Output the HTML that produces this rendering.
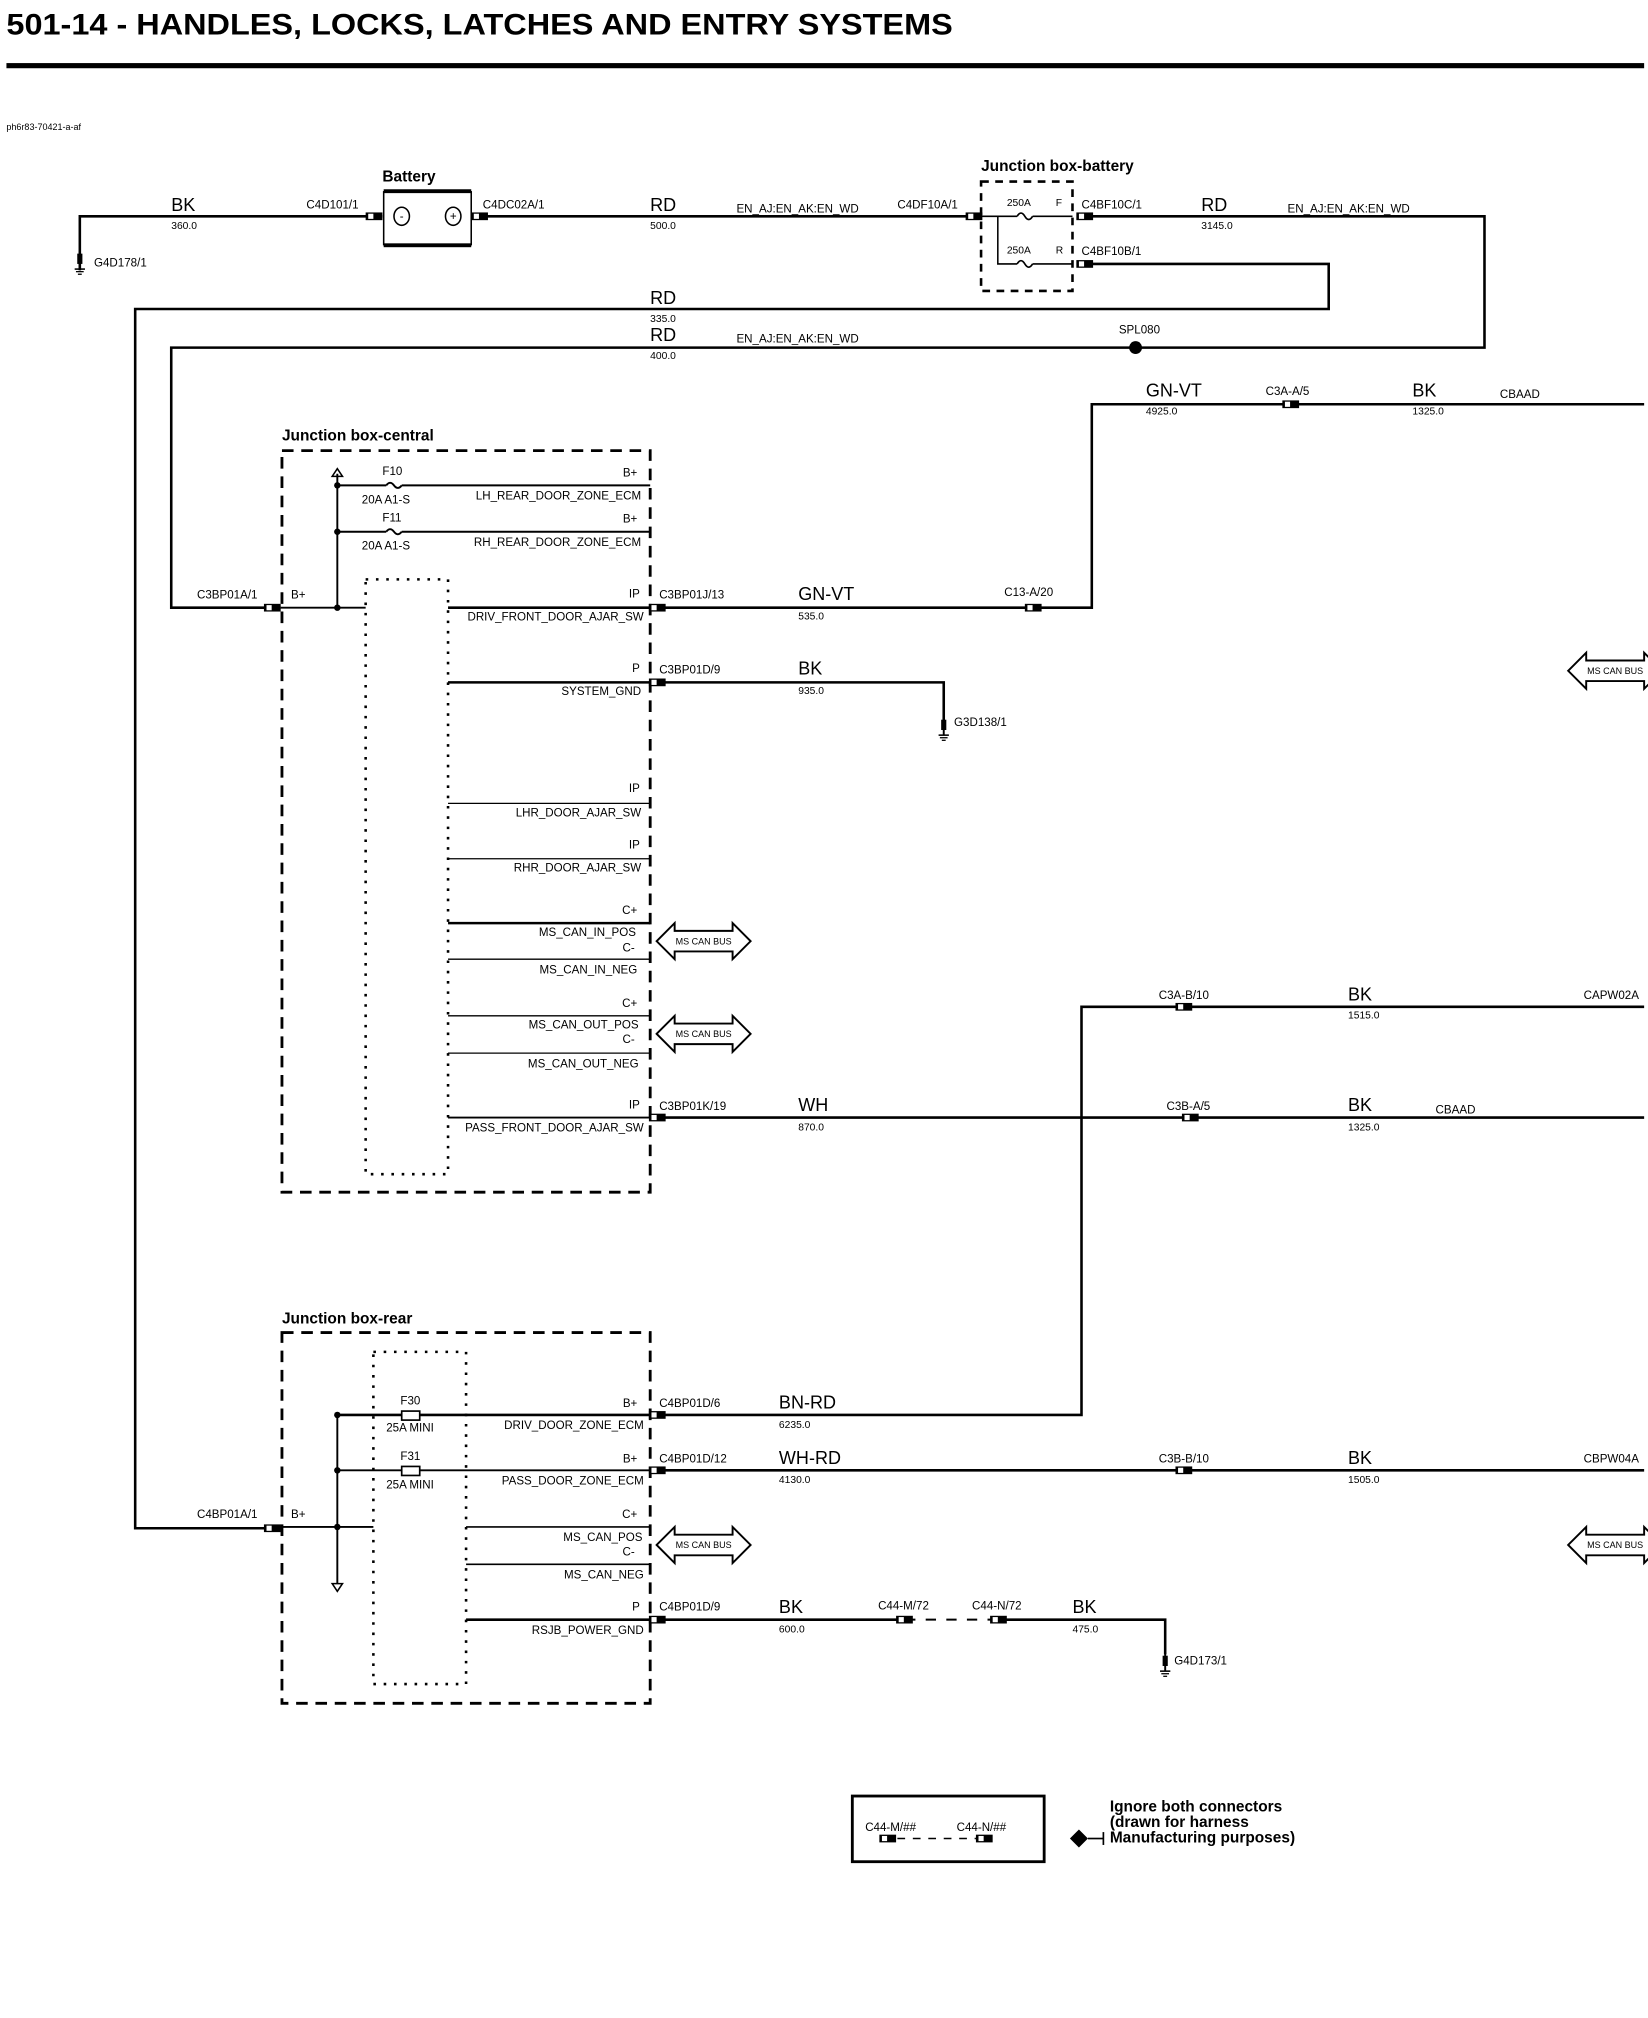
<!DOCTYPE html>
<html><head><meta charset="utf-8"><style>
html,body{margin:0;padding:0;background:#fff}
svg{display:block}
text{font-family:"Liberation Sans",sans-serif;fill:#000}
.w{font-size:14px}
.n{font-size:8px}
.s{font-size:9px}
.b{font-weight:bold}
</style></head><body>
<svg width="1648" height="2018" viewBox="0 0 1280 1567.4" preserveAspectRatio="none" xmlns="http://www.w3.org/2000/svg">
<defs>
<g id="cn"><rect x="-7" y="-3" width="13" height="6" fill="#000"/><rect x="-5" y="-2" width="4" height="4" fill="#fff"/></g>
<g id="can"><polygon points="0,0 14,-14 14,-8 59,-8 59,-14 73,0 59,14 59,8 14,8 14,14" fill="#fff" stroke="#000" stroke-width="1.5"/><text x="36.5" y="2.5" font-size="7" text-anchor="middle">MS CAN BUS</text></g>
<g id="gnd"><line x1="0" y1="-8" x2="0" y2="6" stroke="#000" stroke-width="1.5"/><rect x="-2" y="-6" width="4" height="8" fill="#000"/><line x1="-4" y1="6" x2="4" y2="6" stroke="#000" stroke-width="1.2"/><line x1="-3" y1="8" x2="3" y2="8" stroke="#000"/><line x1="-1.5" y1="10" x2="1.5" y2="10" stroke="#000"/></g>
</defs>
<text x="5" y="27" font-size="23" font-weight="bold" textLength="735" lengthAdjust="spacingAndGlyphs">501-14 - HANDLES, LOCKS, LATCHES AND ENTRY SYSTEMS</text>
<rect x="5" y="49" width="1272" height="4" fill="#000"/>
<text x="5" y="101" font-size="7">ph6r83-70421-a-af</text>

<g stroke="#000" stroke-width="2" fill="none">
<!-- top wires -->
<polyline points="62,210 62,168 297,168"/>
<line x1="367" y1="168" x2="760" y2="168"/>
<polyline points="843,168 1153,168 1153,270 133,270 133,472 218,472"/>
<polyline points="843,205 1032,205 1032,240 105,240 105,1187 218,1187"/>
<polyline points="505,472 848,472 848,314 1277,314"/>
<polyline points="505,530 733,530 733,560"/>
<line x1="505" y1="868" x2="1277" y2="868"/>
<polyline points="505,1099 840,1099 840,782 1277,782"/>
<line x1="505" y1="1142" x2="1277" y2="1142"/>
<line x1="505" y1="1258" x2="703" y2="1258"/>
<polyline points="776,1258 905,1258 905,1285"/>
</g>
<line x1="703" y1="1258" x2="776" y2="1258" stroke="#000" stroke-width="1.5" stroke-dasharray="8,8"/>

<!-- battery -->
<rect x="298" y="149" width="68" height="41" fill="#fff" stroke="#000" stroke-width="1.2"/>
<rect x="298" y="147" width="68" height="3" fill="#000"/><rect x="298" y="189" width="68" height="3" fill="#000"/>
<ellipse cx="312" cy="168" rx="6" ry="7" fill="none" stroke="#000" stroke-width="1.2"/><text x="312" y="171" font-size="9" text-anchor="middle">-</text>
<ellipse cx="352" cy="168" rx="6" ry="7" fill="none" stroke="#000" stroke-width="1.2"/><text x="352" y="171" font-size="9" text-anchor="middle">+</text>
<text x="297" y="141" font-size="12" class="b">Battery</text>
<use href="#cn" x="291" y="168"/><use href="#cn" x="373" y="168"/>
<use href="#gnd" x="62" y="203"/>
<text x="73" y="207" class="s">G4D178/1</text>
<text x="133" y="164" class="w">BK</text><text x="133" y="178" class="n">360.0</text>
<text x="238" y="162" class="s">C4D101/1</text>
<text x="375" y="162" class="s">C4DC02A/1</text>
<text x="505" y="164" class="w">RD</text><text x="505" y="178" class="n">500.0</text>
<text x="572" y="165" class="s">EN_AJ:EN_AK:EN_WD</text>
<text x="697" y="162" class="s">C4DF10A/1</text>

<!-- junction box battery -->
<rect x="762" y="141" width="71" height="85" fill="none" stroke="#000" stroke-width="2" stroke-dasharray="6,5"/>
<text x="762" y="133" font-size="12" class="b">Junction box-battery</text>
<use href="#cn" x="757" y="168"/>
<polyline points="762,168 790,168" stroke="#000" stroke-width="1.2"/>
<polyline points="775,168 775,205 790,205" stroke="#000" stroke-width="1.2" fill="none"/>
<path d="M790,168 q3,-5 6,0 q3,5 6,0" stroke="#000" fill="none" stroke-width="1.3"/>
<path d="M790,205 q3,-5 6,0 q3,5 6,0" stroke="#000" fill="none" stroke-width="1.3"/>
<line x1="802" y1="168" x2="833" y2="168" stroke="#000" stroke-width="1.2"/>
<line x1="802" y1="205" x2="833" y2="205" stroke="#000" stroke-width="1.2"/>
<text x="782" y="160" font-size="8">250A</text><text x="820" y="160" font-size="8">F</text>
<text x="782" y="197" font-size="8">250A</text><text x="820" y="197" font-size="8">R</text>
<use href="#cn" x="843" y="168"/><use href="#cn" x="843" y="205"/>
<text x="840" y="162" class="s">C4BF10C/1</text><text x="840" y="198" class="s">C4BF10B/1</text>
<text x="933" y="164" class="w">RD</text><text x="933" y="178" class="n">3145.0</text>
<text x="1000" y="165" class="s">EN_AJ:EN_AK:EN_WD</text>
<text x="505" y="236" class="w">RD</text><text x="505" y="250" class="n">335.0</text>
<text x="505" y="265" class="w">RD</text><text x="505" y="279" class="n">400.0</text>
<text x="572" y="266" class="s">EN_AJ:EN_AK:EN_WD</text>
<circle cx="882" cy="270" r="5" fill="#000"/><text x="869" y="259" class="s">SPL080</text>

<text x="890" y="308" class="w">GN-VT</text><text x="890" y="322" class="n">4925.0</text>
<text x="983" y="307" class="s">C3A-A/5</text><use href="#cn" x="1003" y="314"/>
<text x="1097" y="308" class="w">BK</text><text x="1097" y="322" class="n">1325.0</text>
<text x="1165" y="309" class="s">CBAAD</text>

<!-- junction box central -->
<text x="219" y="342" font-size="12" class="b">Junction box-central</text>
<rect x="219" y="350" width="286" height="576" fill="none" stroke="#000" stroke-width="2.2" stroke-dasharray="9,6"/>
<rect x="284" y="450" width="64" height="462" fill="none" stroke="#000" stroke-width="2" stroke-dasharray="2,6"/>
<g stroke="#000" fill="none">
<line x1="262" y1="368" x2="262" y2="472" stroke-width="1.5"/>
<polygon points="258,370 262,364 266,370" stroke-width="1.2"/>
<line x1="262" y1="377" x2="300" y2="377" stroke-width="1.5"/><path d="M300,377 q3,-4 6,0 q3,4 6,0" stroke-width="1.5"/><line x1="312" y1="377" x2="505" y2="377" stroke-width="1.5"/>
<line x1="262" y1="413" x2="300" y2="413" stroke-width="1.5"/><path d="M300,413 q3,-4 6,0 q3,4 6,0" stroke-width="1.5"/><line x1="312" y1="413" x2="505" y2="413" stroke-width="1.5"/>
<line x1="218" y1="472" x2="284" y2="472" stroke-width="1.5"/>
<line x1="348" y1="472" x2="505" y2="472" stroke-width="2"/>
<line x1="348" y1="530" x2="505" y2="530" stroke-width="2"/>
<line x1="348" y1="624" x2="505" y2="624" stroke-width="1"/>
<line x1="348" y1="667" x2="505" y2="667" stroke-width="1"/>
<line x1="348" y1="717" x2="505" y2="717" stroke-width="2"/>
<line x1="348" y1="745" x2="505" y2="745" stroke-width="1"/>
<line x1="348" y1="789" x2="505" y2="789" stroke-width="1"/>
<line x1="348" y1="818" x2="505" y2="818" stroke-width="1"/>
<line x1="348" y1="868" x2="505" y2="868" stroke-width="1.5"/>
</g>
<circle cx="262" cy="377" r="2.5"/><circle cx="262" cy="413" r="2.5"/><circle cx="262" cy="472" r="2.5"/>
<text x="297" y="369" class="s">F10</text><text x="281" y="391" class="s">20A  A1-S</text>
<text x="297" y="405" class="s">F11</text><text x="281" y="427" class="s">20A  A1-S</text>
<g class="s" text-anchor="end">
<text x="495" y="370">B+</text><text x="498" y="388">LH_REAR_DOOR_ZONE_ECM</text>
<text x="495" y="406">B+</text><text x="498" y="424">RH_REAR_DOOR_ZONE_ECM</text>
<text x="497" y="464">IP</text><text x="500" y="482">DRIV_FRONT_DOOR_AJAR_SW</text>
<text x="497" y="522">P</text><text x="498" y="540">SYSTEM_GND</text>
<text x="497" y="615">IP</text><text x="498" y="634">LHR_DOOR_AJAR_SW</text>
<text x="497" y="659">IP</text><text x="498" y="677">RHR_DOOR_AJAR_SW</text>
<text x="495" y="710">C+</text><text x="494" y="727">MS_CAN_IN_POS</text>
<text x="493" y="739">C-</text><text x="495" y="756">MS_CAN_IN_NEG</text>
<text x="495" y="782">C+</text><text x="496" y="799">MS_CAN_OUT_POS</text>
<text x="493" y="810">C-</text><text x="496" y="829">MS_CAN_OUT_NEG</text>
<text x="497" y="861">IP</text><text x="500" y="879">PASS_FRONT_DOOR_AJAR_SW</text>
</g>
<text x="153" y="465" class="s">C3BP01A/1</text><text x="226" y="465" class="s">B+</text>
<use href="#cn" x="212" y="472"/>
<use href="#can" x="510" y="731"/><use href="#can" x="510" y="803"/>
<use href="#can" x="1218" y="521"/>
<use href="#cn" x="511" y="472"/><use href="#cn" x="511" y="530"/><use href="#cn" x="511" y="868"/>
<text x="512" y="465" class="s">C3BP01J/13</text>
<text x="620" y="466" class="w">GN-VT</text><text x="620" y="481" class="n">535.0</text>
<text x="780" y="463" class="s">C13-A/20</text><use href="#cn" x="803" y="472"/>
<text x="512" y="523" class="s">C3BP01D/9</text>
<text x="620" y="524" class="w">BK</text><text x="620" y="539" class="n">935.0</text>
<use href="#gnd" x="733" y="565"/><text x="741" y="564" class="s">G3D138/1</text>
<text x="512" y="862" class="s">C3BP01K/19</text>
<text x="620" y="863" class="w">WH</text><text x="620" y="878" class="n">870.0</text>
<text x="906" y="862" class="s">C3B-A/5</text><use href="#cn" x="925" y="868"/>
<text x="1047" y="863" class="w">BK</text><text x="1047" y="878" class="n">1325.0</text>
<text x="1115" y="865" class="s">CBAAD</text>
<text x="900" y="776" class="s">C3A-B/10</text><use href="#cn" x="920" y="782"/>
<text x="1047" y="777" class="w">BK</text><text x="1047" y="791" class="n">1515.0</text>
<text x="1230" y="776" class="s">CAPW02A</text>

<!-- junction box rear -->
<text x="219" y="1028" font-size="12" class="b">Junction box-rear</text>
<rect x="219" y="1035" width="286" height="288" fill="none" stroke="#000" stroke-width="2.2" stroke-dasharray="9,6"/>
<rect x="290" y="1050" width="72" height="258" fill="none" stroke="#000" stroke-width="2" stroke-dasharray="2,6"/>
<g stroke="#000" fill="none">
<line x1="262" y1="1099" x2="262" y2="1230" stroke-width="1.5"/>
<polygon points="258,1230 262,1236 266,1230" stroke-width="1.2"/>
<line x1="262" y1="1099" x2="505" y2="1099" stroke-width="2"/>
<line x1="262" y1="1142" x2="505" y2="1142" stroke-width="1.5"/>
<line x1="218" y1="1186" x2="290" y2="1186" stroke-width="1.5"/>
<line x1="362" y1="1186" x2="505" y2="1186" stroke-width="1.2"/>
<line x1="362" y1="1215" x2="505" y2="1215" stroke-width="1.2"/>
<line x1="362" y1="1258" x2="505" y2="1258" stroke-width="2"/>
</g>
<rect x="312" y="1096" width="14" height="7" fill="#fff" stroke="#000" stroke-width="1.3"/>
<rect x="312" y="1139" width="14" height="7" fill="#fff" stroke="#000" stroke-width="1.3"/>
<circle cx="262" cy="1099" r="2.5"/><circle cx="262" cy="1142" r="2.5"/><circle cx="262" cy="1186" r="2.5"/>
<text x="311" y="1091" class="s">F30</text><text x="300" y="1112" class="s">25A MINI</text>
<text x="311" y="1134" class="s">F31</text><text x="300" y="1156" class="s">25A MINI</text>
<g class="s" text-anchor="end">
<text x="495" y="1093">B+</text><text x="500" y="1110">DRIV_DOOR_ZONE_ECM</text>
<text x="495" y="1136">B+</text><text x="500" y="1153">PASS_DOOR_ZONE_ECM</text>
<text x="495" y="1179">C+</text><text x="499" y="1197">MS_CAN_POS</text>
<text x="493" y="1208">C-</text><text x="500" y="1226">MS_CAN_NEG</text>
<text x="497" y="1251">P</text><text x="500" y="1269">RSJB_POWER_GND</text>
</g>
<text x="153" y="1179" class="s">C4BP01A/1</text><text x="226" y="1179" class="s">B+</text>
<use href="#cn" x="212" y="1187"/>
<use href="#can" x="510" y="1200"/><use href="#can" x="1218" y="1200"/>
<use href="#cn" x="511" y="1099"/><use href="#cn" x="511" y="1142"/><use href="#cn" x="511" y="1258"/>
<text x="512" y="1093" class="s">C4BP01D/6</text>
<text x="605" y="1094" class="w">BN-RD</text><text x="605" y="1109" class="n">6235.0</text>
<text x="512" y="1136" class="s">C4BP01D/12</text>
<text x="605" y="1137" class="w">WH-RD</text><text x="605" y="1152" class="n">4130.0</text>
<text x="900" y="1136" class="s">C3B-B/10</text><use href="#cn" x="920" y="1142"/>
<text x="1047" y="1137" class="w">BK</text><text x="1047" y="1152" class="n">1505.0</text>
<text x="1230" y="1136" class="s">CBPW04A</text>
<text x="512" y="1251" class="s">C4BP01D/9</text>
<text x="605" y="1253" class="w">BK</text><text x="605" y="1268" class="n">600.0</text>
<text x="682" y="1250" class="s">C44-M/72</text><use href="#cn" x="703" y="1258"/>
<text x="755" y="1250" class="s">C44-N/72</text><use href="#cn" x="776" y="1258"/>
<text x="833" y="1253" class="w">BK</text><text x="833" y="1268" class="n">475.0</text>
<use href="#gnd" x="905" y="1292"/><text x="912" y="1293" class="s">G4D173/1</text>

<!-- legend -->
<rect x="662" y="1395" width="149" height="51" fill="none" stroke="#000" stroke-width="2.2"/>
<text x="672" y="1422" class="s">C44-M/##</text><text x="743" y="1422" class="s">C44-N/##</text>
<use href="#cn" x="690" y="1428"/><use href="#cn" x="765" y="1428"/>
<line x1="697" y1="1428" x2="758" y2="1428" stroke="#000" stroke-width="1.2" stroke-dasharray="6,6"/>
<polygon points="831,1428 838,1421 845,1428 838,1435" fill="#000"/>
<line x1="845" y1="1428" x2="857" y2="1428" stroke="#000" stroke-width="1.3"/>
<line x1="857" y1="1423" x2="857" y2="1433" stroke="#000" stroke-width="1.3"/>
<g font-size="12" font-weight="bold"><text x="862" y="1407">Ignore both connectors</text><text x="862" y="1419">(drawn for harness</text><text x="862" y="1431">Manufacturing purposes)</text></g>
</svg>
</body></html>
